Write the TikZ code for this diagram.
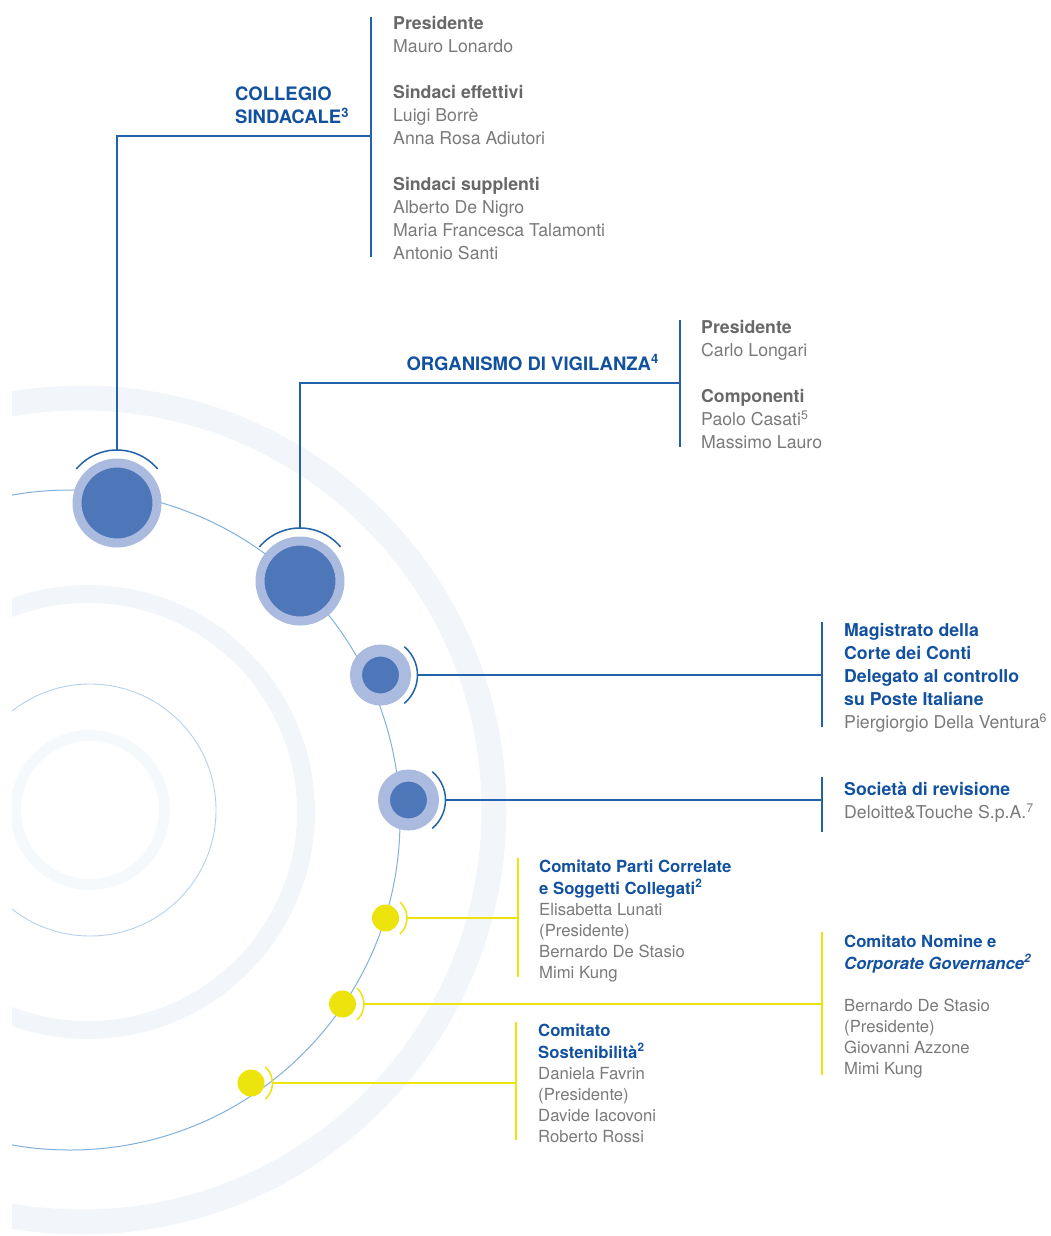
\documentclass[tikz,border=0pt]{standalone}
\usepackage{fontspec}
\setmainfont{TeX Gyre Heros}
\usetikzlibrary{calc}
\definecolor{posteblue}{HTML}{12519F}
\definecolor{linkblue}{HTML}{2262AA}
\definecolor{orbitblue}{HTML}{80B0DC}
\definecolor{rimblue}{HTML}{ABBADF}
\definecolor{coreblue}{HTML}{4E77BA}
\definecolor{dotyellow}{HTML}{EDE40E}
\definecolor{ringtint}{HTML}{F2F6FB}
\definecolor{thinring}{HTML}{B5D0EA}
\definecolor{namegray}{HTML}{7A7A7A}
\definecolor{headgray}{HTML}{686868}
\newcommand{\bluehead}[1]{{\color{posteblue}\bfseries #1}}
\newcommand{\grayhead}[1]{{\color{headgray}\bfseries #1}}

\begin{document}
\begin{tikzpicture}[x=1pt,y=-1pt,
 bignode/.style={circle,inner sep=0,minimum size=80pt,fill=coreblue,draw=rimblue,line width=9pt},
 midnode/.style={circle,inner sep=0,minimum size=49pt,fill=coreblue,draw=rimblue,line width=12pt},
 dot/.style={circle,inner sep=0,minimum size=27pt,fill=dotyellow},
 link/.style={draw=linkblue,line width=1.3pt},
 hook/.style={draw=linkblue,line width=1.5pt},
 ylink/.style={draw=dotyellow,line width=1.5pt},
 title/.style={inner sep=0,anchor=north west,align=left,text=posteblue,font=\fontsize{18.5}{23}\selectfont\bfseries},
 names/.style={inner sep=0,anchor=north west,align=left,text=namegray,font=\fontsize{17.7}{23}\selectfont},
 committee/.style={inner sep=0,anchor=north west,align=left,text=namegray,font=\fontsize{16.7}{21}\selectfont}
]
\useasboundingbox (0,0) rectangle (1050,1236);
% background rings and orbit
\begin{scope}
\clip (12,0) rectangle (1050,1236);
\draw[ringtint,line width=25pt] (82,810) circle[radius=412];
\draw[ringtint,line width=18pt] (88,812) circle[radius=218];
\draw[ringtint!70,line width=11pt] (90,810) circle[radius=74.5];
\draw[thinring,line width=0.9pt] (90,810) circle[radius=126];
\coordinate (hub) at (70,820);
\draw[orbitblue,line width=1pt] (hub) circle[radius=330];
\end{scope}
% bodies on the orbit
\node[bignode] (csnode) at (117,503) {};
\node[bignode] (odvnode) at (300,581) {};
\node[midnode] (corte) at (380.5,675) {};
\node[midnode] (revisione) at (408.5,800) {};
\node[dot] (parti) at (385.5,918) {};
\node[dot] (nomine) at (342.5,1004) {};
\node[dot] (sosten) at (251,1083) {};
% brackets
\draw[hook] ($(csnode)+(-140:53)$) arc[start angle=-140,end angle=-40,radius=53];
\draw[hook] ($(odvnode)+(-140:53)$) arc[start angle=-140,end angle=-40,radius=53];
\draw[hook] ($(corte)+(-50:37)$) arc[start angle=-50,end angle=50,radius=37];
\draw[hook] ($(revisione)+(-50:37)$) arc[start angle=-50,end angle=50,radius=37];
\draw[ylink] ($(parti)+(-48:21.5)$) arc[start angle=-48,end angle=48,radius=21.5];
\draw[ylink] ($(nomine)+(-48:21.5)$) arc[start angle=-48,end angle=48,radius=21.5];
\draw[ylink] ($(sosten)+(-48:21.5)$) arc[start angle=-48,end angle=48,radius=21.5];
\coordinate (cs-hook) at ($(csnode)+(0,-53)$);
\coordinate (odv-hook) at ($(odvnode)+(0,-53)$);
\coordinate (corte-hook) at ($(corte)+(37,0)$);
\coordinate (rev-hook) at ($(revisione)+(37,0)$);
\coordinate (parti-hook) at ($(parti)+(21.5,0)$);
\coordinate (nomine-hook) at ($(nomine)+(21.5,0)$);
\coordinate (sosten-hook) at ($(sosten)+(21.5,0)$);
% bars beside the lists
\coordinate (cs-top) at (371,17);      \coordinate (cs-bot) at (371,257);
\coordinate (odv-top) at (680,320);    \coordinate (odv-bot) at (680,447);
\coordinate (corte-top) at (822,622);  \coordinate (corte-bot) at (822,727);
\coordinate (rev-top) at (822,777);    \coordinate (rev-bot) at (822,832);
\coordinate (parti-top) at (518,858);  \coordinate (parti-bot) at (518,977);
\coordinate (nomine-top) at (822,932); \coordinate (nomine-bot) at (822,1075);
\coordinate (sosten-top) at (516,1022); \coordinate (sosten-bot) at (516,1140);
\draw[link] (cs-top) -- (cs-bot);
\draw[link] (odv-top) -- (odv-bot);
\draw[link] (corte-top) -- (corte-bot);
\draw[link] (rev-top) -- (rev-bot);
\draw[ylink] (parti-top) -- (parti-bot);
\draw[ylink] (nomine-top) -- (nomine-bot);
\draw[ylink] (sosten-top) -- (sosten-bot);
% connectors
\draw[link] (cs-hook) |- ($(cs-top)!0.496!(cs-bot)$);
\draw[link] (odv-hook) |- ($(odv-top)!0.496!(odv-bot)$);
\draw[link] (corte-hook) -- (corte-hook -| corte-top);
\draw[link] (rev-hook) -- (rev-hook -| rev-top);
\draw[ylink] (parti-hook) -- (parti-hook -| parti-top);
\draw[ylink] (nomine-hook) -- (nomine-hook -| nomine-top);
\draw[ylink] (sosten-hook) -- (sosten-hook -| sosten-top);
% texts
\node[title] (cs-title) at (235,84) {\strut COLLEGIO\\SINDACALE\textsuperscript{3}};
\node[names] (cs-list) at (393,12.9) {\strut\grayhead{Presidente}\\Mauro Lonardo\\[23pt]\grayhead{Sindaci effettivi}\\Luigi Borrè\\Anna Rosa Adiutori\\[23pt]\grayhead{Sindaci supplenti}\\Alberto De Nigro\\Maria Francesca Talamonti\\Antonio Santi};
\node[title,anchor=base east] (odv-title) at (659,370) {ORGANISMO DI VIGILANZA\textsuperscript{4}};
\node[names] (odv-list) at (701,317) {\strut\grayhead{Presidente}\\Carlo Longari\\[23pt]\grayhead{Componenti}\\Paolo Casati\textsuperscript{5}\\Massimo Lauro};
\node[names] (corte-list) at (844,620) {\strut\bluehead{Magistrato della}\\\bluehead{Corte dei Conti}\\\bluehead{Delegato al controllo}\\\bluehead{su Poste Italiane}\\Piergiorgio Della Ventura\textsuperscript{6}};
\node[names] (rev-list) at (844,779) {\strut\bluehead{Società di revisione}\\Deloitte\&Touche S.p.A.\textsuperscript{7}};
\node[committee] (parti-list) at (539,857.3) {\strut\bluehead{Comitato Parti Correlate}\\\bluehead{e Soggetti Collegati\textsuperscript{2}}\\Elisabetta Lunati\\(Presidente)\\Bernardo De Stasio\\Mimi Kung};
\node[committee] (nomine-list) at (844,932.3) {\strut\bluehead{Comitato Nomine e}\\\bluehead{\itshape Corporate Governance\textsuperscript{2}}\\[21pt]Bernardo De Stasio\\(Presidente)\\Giovanni Azzone\\Mimi Kung};
\node[committee] (sosten-list) at (538,1021.3) {\strut\bluehead{Comitato}\\\bluehead{Sostenibilità\textsuperscript{2}}\\Daniela Favrin\\(Presidente)\\Davide Iacovoni\\Roberto Rossi};
\end{tikzpicture}
\end{document}
